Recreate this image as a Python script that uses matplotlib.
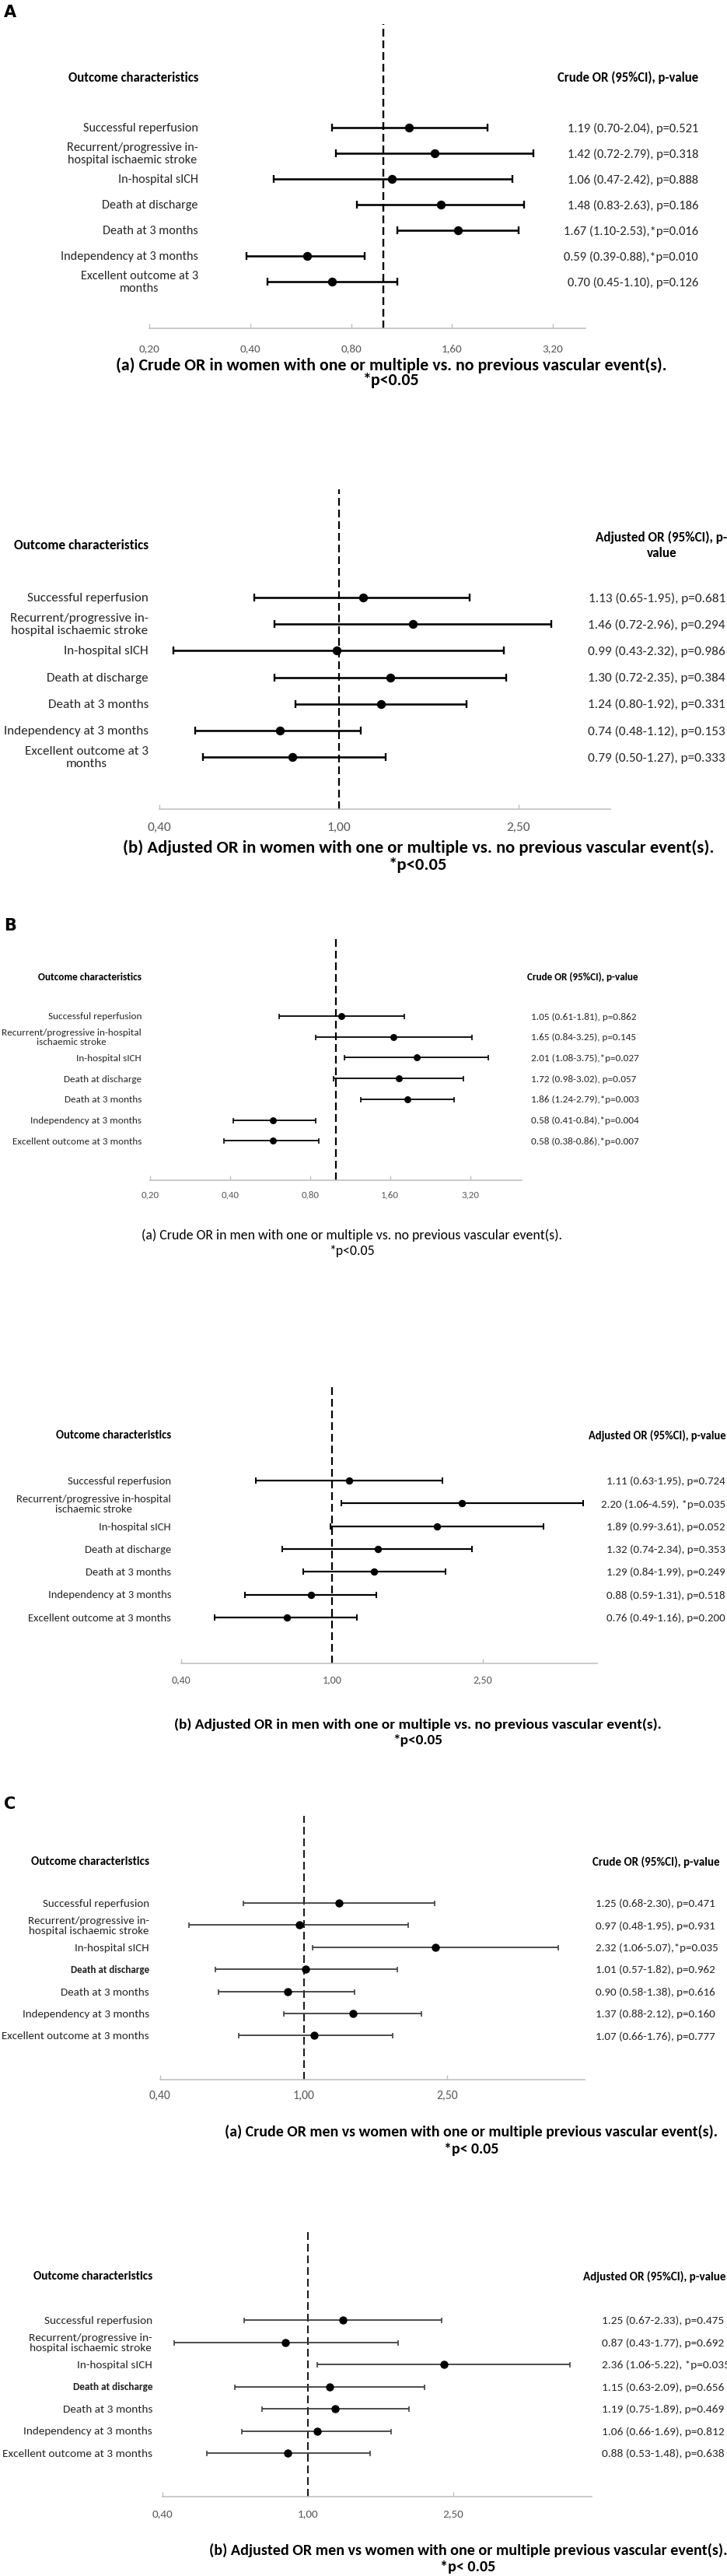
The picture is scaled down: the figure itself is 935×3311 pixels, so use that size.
import numpy as np
import matplotlib
matplotlib.use("Agg")
import matplotlib.pyplot as plt
import matplotlib.transforms as mtransforms
from matplotlib import font_manager
from matplotlib.ticker import NullLocator

W, H = 935, 3312

# ---------------- data ----------------
labels_a = ["Successful reperfusion", "Recurrent/progressive in-\nhospital ischaemic stroke",
            "In-hospital sICH", "Death at discharge", "Death at 3 months",
            "Independency at 3 months", "Excellent outcome at 3\nmonths"]
labels_b = ["Successful reperfusion", "Recurrent/progressive in-hospital\nischaemic stroke",
            "In-hospital sICH", "Death at discharge", "Death at 3 months",
            "Independency at 3 months", "Excellent outcome at 3 months"]
labels_c = ["Successful reperfusion", "Recurrent/progressive in-\nhospital ischaemic stroke",
            "In-hospital sICH", "Death at discharge", "Death at 3 months",
            "Independency at 3 months", "Excellent outcome at 3 months"]

# A - women, one or multiple vs no previous vascular event(s)
women_crude_or = [1.19, 1.42, 1.06, 1.48, 1.67, 0.59, 0.70]
women_crude_lo = [0.70, 0.72, 0.47, 0.83, 1.10, 0.39, 0.45]
women_crude_hi = [2.04, 2.79, 2.42, 2.63, 2.53, 0.88, 1.10]
women_crude_txt = ["1.19 (0.70-2.04), p=0.521", "1.42 (0.72-2.79), p=0.318", "1.06 (0.47-2.42), p=0.888",
                   "1.48 (0.83-2.63), p=0.186", "1.67 (1.10-2.53),*p=0.016", "0.59 (0.39-0.88),*p=0.010",
                   "0.70 (0.45-1.10), p=0.126"]

women_adj_or = [1.13, 1.46, 0.99, 1.30, 1.24, 0.74, 0.79]
women_adj_lo = [0.65, 0.72, 0.43, 0.72, 0.80, 0.48, 0.50]
women_adj_hi = [1.95, 2.96, 2.32, 2.35, 1.92, 1.12, 1.27]
women_adj_txt = ["1.13 (0.65-1.95), p=0.681", "1.46 (0.72-2.96), p=0.294", "0.99 (0.43-2.32), p=0.986",
                 "1.30 (0.72-2.35), p=0.384", "1.24 (0.80-1.92), p=0.331", "0.74 (0.48-1.12), p=0.153",
                 "0.79 (0.50-1.27), p=0.333"]

# B - men, one or multiple vs no previous vascular event(s)
men_crude_or = [1.05, 1.65, 2.01, 1.72, 1.86, 0.58, 0.58]
men_crude_lo = [0.61, 0.84, 1.08, 0.98, 1.24, 0.41, 0.38]
men_crude_hi = [1.81, 3.25, 3.75, 3.02, 2.79, 0.84, 0.86]
men_crude_txt = ["1.05 (0.61-1.81), p=0.862", "1.65 (0.84-3.25), p=0.145", "2.01 (1.08-3.75),*p=0.027",
                 "1.72 (0.98-3.02), p=0.057", "1.86 (1.24-2.79),*p=0.003", "0.58 (0.41-0.84),*p=0.004",
                 "0.58 (0.38-0.86),*p=0.007"]

men_adj_or = [1.11, 2.20, 1.89, 1.32, 1.29, 0.88, 0.76]
men_adj_lo = [0.63, 1.06, 0.99, 0.74, 0.84, 0.59, 0.49]
men_adj_hi = [1.95, 4.59, 3.61, 2.34, 1.99, 1.31, 1.16]
men_adj_txt = ["1.11 (0.63-1.95), p=0.724", "2.20 (1.06-4.59), *p=0.035", "1.89 (0.99-3.61), p=0.052",
               "1.32 (0.74-2.34), p=0.353", "1.29 (0.84-1.99), p=0.249", "0.88 (0.59-1.31), p=0.518",
               "0.76 (0.49-1.16), p=0.200"]

# C - men vs women with one or multiple previous vascular event(s)
sex_crude_or = [1.25, 0.97, 2.32, 1.01, 0.90, 1.37, 1.07]
sex_crude_lo = [0.68, 0.48, 1.06, 0.57, 0.58, 0.88, 0.66]
sex_crude_hi = [2.30, 1.95, 5.07, 1.82, 1.38, 2.12, 1.76]
sex_crude_txt = ["1.25 (0.68-2.30), p=0.471", "0.97 (0.48-1.95), p=0.931", "2.32 (1.06-5.07),*p=0.035",
                 "1.01 (0.57-1.82), p=0.962", "0.90 (0.58-1.38), p=0.616", "1.37 (0.88-2.12), p=0.160",
                 "1.07 (0.66-1.76), p=0.777"]

sex_adj_or = [1.25, 0.87, 2.36, 1.15, 1.19, 1.06, 0.88]
sex_adj_lo = [0.67, 0.43, 1.06, 0.63, 0.75, 0.66, 0.53]
sex_adj_hi = [2.33, 1.77, 5.22, 2.09, 1.89, 1.69, 1.48]
sex_adj_txt = ["1.25 (0.67-2.33), p=0.475", "0.87 (0.43-1.77), p=0.692", "2.36 (1.06-5.22), *p=0.035",
               "1.15 (0.63-2.09), p=0.656", "1.19 (0.75-1.89), p=0.469", "1.06 (0.66-1.69), p=0.812",
               "0.88 (0.53-1.48), p=0.638"]

ticks_oct = [0.2, 0.4, 0.8, 1.6, 3.2]
ticks_oct_lbl = ["0,20", "0,40", "0,80", "1,60", "3,20"]
ticks_25 = [0.4, 1.0, 2.5]
ticks_25_lbl = ["0,40", "1,00", "2,50"]

crude_head = "Crude OR (95%CI), p-value"
adj_head = "Adjusted OR (95%CI), p-value"

# ---------------- layout (pixels, y from top) ----------------
panels = [
    dict(letter="A", letter_y=16, labels=labels_a, est=women_crude_or, lo=women_crude_lo, hi=women_crude_hi,
         txt=women_crude_txt, xlim=(0.2, 4.0), ticks=ticks_oct, tlbl=ticks_oct_lbl,
         left=192, right=753, top=32, bottom=423, row0=165, step=33.0, tick_y=448,
         lab_x=255, head_y=100, head_r=crude_head, head_r_x=898, head_r_ha="right",
         val_x=898, val_ha="right",
         cap1="(a) Crude OR in women with one or multiple vs. no previous vascular event(s).",
         cap2="*p<0.05", cap_x=503, cap_y1=470, cap_y2=489, cap_w="bold",
         w_lab=149, w_head=167, w_val=170, w_cap=710, w_tick=27, w_headr=181,
         lw=2.6, cap_px=10, ms_px=10, ecol="black", dash_lw=2.4),
    dict(letter=None, labels=labels_a, est=women_adj_or, lo=women_adj_lo, hi=women_adj_hi,
         txt=women_adj_txt, xlim=(0.4, 4.0), ticks=ticks_25, tlbl=ticks_25_lbl,
         left=205, right=785, top=630, bottom=1041, row0=769, step=34.2, tick_y=1064,
         lab_x=191, head_y=701, head_r="Adjusted OR (95%CI), p-\nvalue", head_r_x=851, head_r_ha="center",
         val_x=933, val_ha="right",
         cap1="(b) Adjusted OR in women with one or multiple vs. no previous vascular event(s).",
         cap2="*p<0.05", cap_x=538, cap_y1=1090, cap_y2=1112, cap_w="bold",
         w_lab=157, w_head=173, w_val=177, w_cap=765, w_tick=31, w_headr=170,
         lw=2.6, cap_px=10, ms_px=10, ecol="black", dash_lw=2.2),
    dict(letter="B", letter_y=1190, labels=labels_b, est=men_crude_or, lo=men_crude_lo, hi=men_crude_hi,
         txt=men_crude_txt, xlim=(0.2, 5.0), ticks=ticks_oct, tlbl=ticks_oct_lbl,
         left=193, right=671, top=1203, bottom=1518, row0=1307, step=26.7, tick_y=1536,
         lab_x=182, head_y=1256, head_r=crude_head, head_r_x=678, head_r_ha="left",
         val_x=683, val_ha="left",
         cap1="(a) Crude OR in men with one or multiple vs. no previous vascular event(s).",
         cap2="*p<0.05", cap_x=452, cap_y1=1588, cap_y2=1608, cap_w="normal",
         w_lab=120, w_head=133, w_val=135, w_cap=539, w_tick=23, w_headr=143,
         lw=1.8, cap_px=7, ms_px=7.5, ecol="black", dash_lw=2.2),
    dict(letter=None, labels=labels_b, est=men_adj_or, lo=men_adj_lo, hi=men_adj_hi,
         txt=men_adj_txt, xlim=(0.4, 5.0), ticks=ticks_25, tlbl=ticks_25_lbl,
         left=233, right=768, top=1784, bottom=2139, row0=1904, step=29.3, tick_y=2159,
         lab_x=220, head_y=1845, head_r=adj_head, head_r_x=934, head_r_ha="right",
         val_x=933, val_ha="right",
         cap1="(b) Adjusted OR in men with one or multiple vs. no previous vascular event(s).",
         cap2="*p<0.05", cap_x=537, cap_y1=2217, cap_y2=2237, cap_w="bold",
         w_lab=134, w_head=148, w_val=153, w_cap=628, w_tick=25, w_headr=177,
         lw=2.2, cap_px=8, ms_px=8, ecol="black", dash_lw=2.2),
    dict(letter="C", letter_y=2319, labels=labels_c, est=sex_crude_or, lo=sex_crude_lo, hi=sex_crude_hi,
         txt=sex_crude_txt, xlim=(0.4, 6.0), ticks=ticks_25, tlbl=ticks_25_lbl,
         left=206, right=752, top=2335, bottom=2674, row0=2447, step=28.4, tick_y=2694,
         lab_x=192, head_y=2393, head_r=crude_head, head_r_x=926, head_r_ha="right",
         val_x=766, val_ha="left", bold_row=3, w_bold=101,
         cap1="(a) Crude OR men vs women with one or multiple previous vascular event(s).",
         cap2="*p< 0.05", cap_x=606, cap_y1=2740, cap_y2=2763, cap_w="bold",
         w_lab=137, w_head=152, w_val=154, w_cap=632, w_tick=28, w_headr=164,
         lw=1.8, cap_px=7, ms_px=9, ecol="#3c3c3c", dash_lw=1.8),
    dict(letter=None, labels=labels_c, est=sex_adj_or, lo=sex_adj_lo, hi=sex_adj_hi,
         txt=sex_adj_txt, xlim=(0.4, 6.0), ticks=ticks_25, tlbl=ticks_25_lbl,
         left=209, right=761, top=2868, bottom=3210, row0=2983, step=28.5, tick_y=3231,
         lab_x=196, head_y=2926, head_r=adj_head, head_r_x=934, head_r_ha="right",
         val_x=774, val_ha="left", bold_row=3, w_bold=103,
         cap1="(b) Adjusted OR men vs women with one or multiple previous vascular event(s).",
         cap2="*p< 0.05", cap_x=602, cap_y1=3278, cap_y2=3300, cap_w="bold",
         w_lab=139, w_head=154, w_val=157, w_cap=668, w_tick=27, w_headr=184,
         lw=1.8, cap_px=7, ms_px=9, ecol="#3c3c3c", dash_lw=1.8),
]

# pick a Calibri-like font if one is installed
installed = {f.name for f in font_manager.fontManager.ttflist}
family = next(f for f in ["Carlito", "Lato", "Open Sans", "DejaVu Sans"] if f in installed or f == "DejaVu Sans")
plt.rcParams["font.family"] = [family, "DejaVu Sans"]

fig = plt.figure(figsize=(W / 100, H / 100), dpi=100)
fig.patch.set_facecolor("white")
renderer = fig.canvas.get_renderer()
PT = 0.72  # points per pixel at 100 dpi
DASH_ON, DASH_OFF = 10, 5  # px


def fy(y):
    return 1 - y / H


def fit_size(s, target, weight="normal"):
    t = fig.text(0, 0, s.split("\n")[0], fontsize=10, fontweight=weight)
    w = t.get_window_extent(renderer).width
    t.remove()
    return 10 * target / w


gray = "#bfbfbf"
tick_col = "#595959"

for p in panels:
    ax = fig.add_axes([p["left"] / W, fy(p["bottom"]), (p["right"] - p["left"]) / W,
                       (p["bottom"] - p["top"]) / H])
    n = len(p["labels"])
    rows = np.arange(n)
    y_top = (p["top"] - p["row0"]) / p["step"]
    y_bot = (p["bottom"] - p["row0"]) / p["step"]
    ax.set_xscale("log")
    ax.set_xlim(*p["xlim"])
    ax.set_ylim(y_bot, y_top)

    est = np.array(p["est"])
    xerr = [est - np.array(p["lo"]), np.array(p["hi"]) - est]
    ax.errorbar(est, rows, xerr=xerr, fmt="o", ms=p["ms_px"] * PT, mfc="black", mec="black",
                ecolor=p["ecol"], elinewidth=p["lw"] * PT, capthick=p["lw"] * PT * 0.9,
                capsize=p["cap_px"] * PT / 2, zorder=3)
    dlw = p["dash_lw"] * PT
    ax.axvline(1.0, color="black", lw=dlw,
               ls=(0, (DASH_ON * PT / dlw, DASH_OFF * PT / dlw)), zorder=2)

    for s in ["top", "right", "left"]:
        ax.spines[s].set_visible(False)
    ax.spines["bottom"].set_color(gray)
    ax.spines["bottom"].set_linewidth(1.6 * PT)
    ax.set_yticks([])
    ax.set_xticks(p["ticks"])
    ax.xaxis.set_minor_locator(NullLocator())
    ax.tick_params(axis="x", direction="in", length=4, width=1, color=gray, labelbottom=False)
    ax.patch.set_alpha(0)

    fs_tick = fit_size("0,40", p["w_tick"])
    tr_tick = mtransforms.blended_transform_factory(ax.transData, fig.transFigure)
    for tv, tl in zip(p["ticks"], p["tlbl"]):
        ax.text(tv, fy(p["tick_y"]), tl, transform=tr_tick, ha="center", va="center",
                fontsize=fs_tick, color=tick_col)

    # row labels and values
    fs_lab = fit_size("Successful reperfusion", p["w_lab"])
    fs_val = fit_size(p["txt"][0], p["w_val"])
    tr_row = mtransforms.blended_transform_factory(fig.transFigure, ax.transData)
    for i, lab in enumerate(p["labels"]):
        if p.get("bold_row") == i:
            ax.text(p["lab_x"] / W, i, lab, transform=tr_row, ha="right", va="center",
                    fontsize=fit_size(lab, p["w_bold"], "bold"), fontweight="bold", color="#222222")
        else:
            ax.text(p["lab_x"] / W, i, lab, transform=tr_row, ha="right", va="center",
                    multialignment="center", fontsize=fs_lab, color="#262626", linespacing=1.15)
        ax.text(p["val_x"] / W, i, p["txt"][i], transform=tr_row, ha=p["val_ha"], va="center",
                fontsize=fs_val, color="#262626")

    # headers
    fig.text(p["lab_x"] / W, fy(p["head_y"]), "Outcome characteristics", ha="right", va="center",
             fontsize=fit_size("Outcome characteristics", p["w_head"], "bold"), fontweight="bold")
    fig.text(p["head_r_x"] / W, fy(p["head_y"]), p["head_r"], ha=p["head_r_ha"], va="center",
             multialignment="center", linespacing=1.3,
             fontsize=fit_size(p["head_r"], p["w_headr"], "bold"), fontweight="bold")

    # caption
    fs_cap = fit_size(p["cap1"], p["w_cap"], p["cap_w"])
    fig.text(p["cap_x"] / W, fy(p["cap_y1"]), p["cap1"], ha="center", va="center",
             fontsize=fs_cap, fontweight=p["cap_w"])
    fig.text(p["cap_x"] / W, fy(p["cap_y2"]), p["cap2"], ha="center", va="center",
             fontsize=fs_cap, fontweight=p["cap_w"])

    if p["letter"]:
        fig.text(5 / W, fy(p["letter_y"]), p["letter"], ha="left", va="center", fontsize=15,
                 fontweight="bold", family="DejaVu Sans")

fig.savefig("out.png", dpi=100, facecolor="white")
